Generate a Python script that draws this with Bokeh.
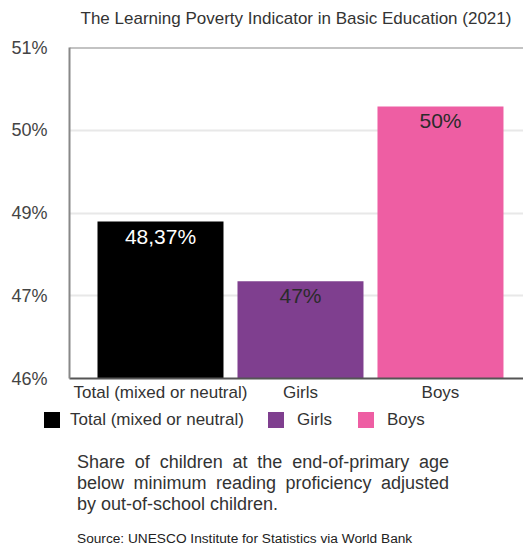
from bokeh.plotting import figure
from bokeh.models import Range1d, FixedTicker, ColumnDataSource, Span, Div
from bokeh.layouts import column
from bokeh.core.properties import value
from bokeh.embed import file_html
from bokeh.resources import INLINE

# ---- data ----
categories = ["Total (mixed or neutral)", "Girls", "Boys"]
values = [48.37, 47.47, 50.11]
bar_labels = ["48,37%", "47%", "50%"]
colors = ["#000000", "#7f3f8f", "#ee5ea3"]
label_colors = ["#ffffff", "#2b2b2b", "#2b2b2b"]
y_ticks = [46, 47.25, 48.5, 49.75, 51]
y_tick_labels = ["46%", "47%", "49%", "50%", "51%"]
title_text = "The Learning Poverty Indicator in Basic Education (2021)"
subtitle_lines = [
    "Share of children at the end-of-primary age",
    "below minimum reading proficiency adjusted",
    "by out-of-school children.",
]
source_text = "Source: UNESCO Institute for Statistics via World Bank"

# ---- layout constants (pixels) ----
FONT = "Liberation Sans"
W, H = 523, 546
H_TITLE = 30
H_CHART = 375
H_NOTES = H - H_TITLE - H_CHART
FRAME_LEFT = 69
FRAME_TOP = 47 - H_TITLE
FRAME_BOTTOM = 378 - H_TITLE

# ---- title ----
title_div = Div(
    text=(f'<div style="position:relative;width:{W}px;height:{H_TITLE}px;">'
          f'<div style="position:absolute;left:{FRAME_LEFT}px;top:9px;'
          f'width:{W - FRAME_LEFT}px;text-align:center;white-space:nowrap;'
          f"font-family:'{FONT}';font-size:17px;line-height:20px;color:#333333;\">"
          f'{title_text}</div></div>'),
    width=W, height=H_TITLE, margin=0)

# ---- chart ----
xs = list(range(len(categories)))
src = ColumnDataSource(dict(x=xs, top=values, color=colors,
                            label=bar_labels, label_color=label_colors))

p = figure(width=W, height=H_CHART,
           x_range=Range1d(-0.65, 2.593), y_range=Range1d(46, 51),
           output_backend="svg", toolbar_location=None,
           min_border_left=FRAME_LEFT, min_border_right=0,
           min_border_top=FRAME_TOP, min_border_bottom=H_CHART - FRAME_BOTTOM)
p.outline_line_color = None

p.vbar(x="x", top="top", bottom=y_ticks[0], width=0.9,
       fill_color="color", line_color=None, source=src)
p.text(x="x", y="top", text="label", text_color="label_color",
       text_align="center", text_baseline="top", y_offset=3,
       text_font=value(FONT), text_font_size="21px", source=src)

# x axis
p.xaxis.ticker = FixedTicker(ticks=xs)
p.xaxis.major_label_overrides = {i: c for i, c in zip(xs, categories)}
p.xaxis.major_tick_line_color = None
p.xaxis.minor_tick_line_color = None
p.xaxis.major_tick_out = 0
p.xaxis.axis_line_color = "#555555"
p.xaxis.axis_line_width = 2
p.xaxis.major_label_text_font = FONT
p.xaxis.major_label_text_font_size = "17px"
p.xaxis.major_label_text_color = "#333333"
p.xaxis.major_label_standoff = 4
p.xgrid.visible = False

# y axis
p.yaxis.ticker = FixedTicker(ticks=y_ticks)
p.yaxis.major_label_overrides = dict(zip(y_ticks, y_tick_labels))
p.yaxis.major_tick_line_color = None
p.yaxis.minor_tick_line_color = None
p.yaxis.axis_line_color = "#888888"
p.yaxis.axis_line_width = 2
p.yaxis.major_label_text_font = FONT
p.yaxis.major_label_text_font_size = "18px"
p.yaxis.major_label_text_color = "#444444"
p.yaxis.major_label_standoff = 16
p.ygrid.ticker = FixedTicker(ticks=y_ticks)
p.ygrid.grid_line_color = "#e8e8e8"
p.ygrid.grid_line_width = 2

p.add_layout(Span(location=y_ticks[-1], dimension="width",
                  line_color="#888888", line_width=2))

# ---- legend and notes below the chart ----
legend_square_left = [44, 268, 358]
legend_text_left = [70, 297, 387]

parts = [f'<div style="position:relative;width:{W}px;height:{H_NOTES}px;'
         f"font-family:'{FONT}';color:#333333;\">"]
for c, col, sx, tx in zip(categories, colors, legend_square_left, legend_text_left):
    parts.append(f'<div style="position:absolute;left:{sx}px;top:7px;width:16px;'
                 f'height:16px;background:{col};"></div>')
    parts.append(f'<div style="position:absolute;left:{tx}px;top:5px;font-size:17px;'
                 f'line-height:20px;white-space:nowrap;">{c}</div>')
for i, line in enumerate(subtitle_lines):
    last = i == len(subtitle_lines) - 1
    align = "left" if last else "justify"
    parts.append(f'<div style="position:absolute;left:77px;top:{47 + 21 * i}px;'
                 f'width:372px;font-size:18px;line-height:21px;white-space:nowrap;'
                 f'text-align:{align};text-align-last:{align};">{line}</div>')
parts.append(f'<div style="position:absolute;left:77px;top:126px;font-size:13.7px;'
             f'line-height:15px;white-space:nowrap;color:#222222;">{source_text}</div>')
parts.append("</div>")

notes = Div(text="".join(parts), width=W, height=H_NOTES, margin=0)

layout = column(title_div, p, notes, spacing=0)
open("out.html", "w").write(file_html(layout, INLINE))
